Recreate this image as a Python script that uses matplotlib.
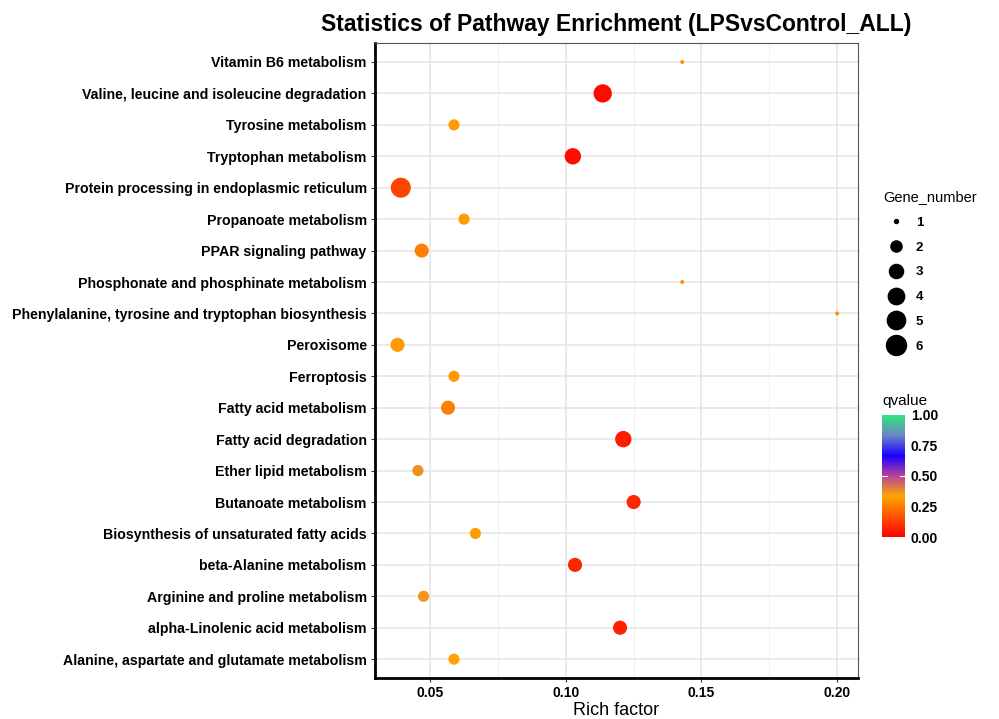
import numpy as np
import matplotlib
matplotlib.use("Agg")
import matplotlib.pyplot as plt
from matplotlib.colors import LinearSegmentedColormap, Normalize
from matplotlib.lines import Line2D

plt.rcParams['font.family'] = ['Liberation Sans', 'DejaVu Sans']

# pathways, top to bottom as in the picture
pathways = [
    "Vitamin B6 metabolism",
    "Valine, leucine and isoleucine degradation",
    "Tyrosine metabolism",
    "Tryptophan metabolism",
    "Protein processing in endoplasmic reticulum",
    "Propanoate metabolism",
    "PPAR signaling pathway",
    "Phosphonate and phosphinate metabolism",
    "Phenylalanine, tyrosine and tryptophan biosynthesis",
    "Peroxisome",
    "Ferroptosis",
    "Fatty acid metabolism",
    "Fatty acid degradation",
    "Ether lipid metabolism",
    "Butanoate metabolism",
    "Biosynthesis of unsaturated fatty acids",
    "beta-Alanine metabolism",
    "Arginine and proline metabolism",
    "alpha-Linolenic acid metabolism",
    "Alanine, aspartate and glutamate metabolism",
]
rich_factor = [0.1429, 0.1136, 0.0588, 0.1026, 0.0392, 0.0625, 0.0469, 0.1429, 0.2000, 0.0380,
               0.0588, 0.0566, 0.1212, 0.0455, 0.1250, 0.0667, 0.1034, 0.0476, 0.1200, 0.0588]
gene_number = [1, 5, 2, 4, 6, 2, 3, 1, 1, 3,
               2, 3, 4, 2, 3, 2, 3, 2, 3, 2]
qvalue = [0.30, 0.02, 0.32, 0.03, 0.14, 0.31, 0.26, 0.30, 0.30, 0.31,
          0.31, 0.26, 0.06, 0.37, 0.08, 0.32, 0.08, 0.36, 0.07, 0.33]

legend_sizes = [1, 2, 3, 4, 5, 6]
x_ticks = [0.05, 0.10, 0.15, 0.20]
cbar_ticks = [0.0, 0.25, 0.5, 0.75, 1.0]

# red -> orange -> blue -> green, roughly like ggplot's Lab interpolation
cmap = LinearSegmentedColormap.from_list("q", [
    (0.0, "#ff0000"), (0.333, "#ffa500"), (0.5, "#b8449a"),
    (0.667, "#1a00ff"), (0.833, "#6c84c4"), (1.0, "#30e87a")])
norm = Normalize(0, 1)


def marker_area(n):
    # ggplot scale_size: diameter rescaled on sqrt, 4px..20px at dpi 100
    d_px = 4 + 16 * np.sqrt((np.asarray(n) - 1) / 5.0)
    return (d_px * 0.72) ** 2


fig = plt.figure(figsize=(9.99, 7.19), dpi=100)
ax = fig.add_axes([0.3754, 0.057, 0.4835, 0.883])

ypos = np.arange(len(pathways))[::-1]
ax.scatter(rich_factor, ypos, s=marker_area(gene_number), c=qvalue, cmap=cmap, norm=norm,
           edgecolors="none", zorder=3)

ax.set_xlim(0.0297, 0.2077)
ax.set_ylim(-0.6, len(pathways) - 0.4)
ax.set_yticks(ypos)
ax.set_yticklabels(pathways, fontsize=10.2, fontweight="bold")
ax.set_xticks(x_ticks)
ax.set_xticklabels([f"{t:.2f}" for t in x_ticks], fontsize=10, fontweight="bold")
ax.set_xticks([0.075, 0.125, 0.175], minor=True)
ax.tick_params(axis="both", length=3, width=0.8, color="#333333", pad=3)
ax.tick_params(axis="x", which="minor", length=0)
ax.grid(True, which="major", color="#e6e6e6", lw=1.2, zorder=0)
ax.grid(True, which="minor", axis="x", color="#f0f0f0", lw=0.7, zorder=0)
ax.set_axisbelow(True)
for side in ["top", "right"]:
    ax.spines[side].set_color("#555555")
    ax.spines[side].set_linewidth(0.8)
for side in ["left", "bottom"]:
    ax.spines[side].set_color("black")
    ax.spines[side].set_linewidth(2)

ax.set_xlabel("Rich factor", fontsize=13, labelpad=1)
ax.set_title("Statistics of Pathway Enrichment (LPSvsControl_ALL)", fontsize=16.5,
             fontweight="bold", pad=9)

# size legend
handles = [Line2D([], [], ls="", marker="o", color="black",
                  markersize=np.sqrt(marker_area(n))) for n in legend_sizes]
leg = fig.legend(handles, [str(n) for n in legend_sizes], title="Gene_number",
                 loc="upper left", bbox_to_anchor=(0.872, 0.752), frameon=False,
                 fontsize=9.5, title_fontsize=10.5, labelspacing=0.95, handletextpad=0.5,
                 alignment="left")
for t in leg.get_texts():
    t.set_fontweight("bold")

# colour bar
cax = fig.add_axes([0.883, 0.253, 0.023, 0.170])
cb = fig.colorbar(plt.cm.ScalarMappable(norm=norm, cmap=cmap), cax=cax, ticks=cbar_ticks)
cb.outline.set_visible(False)
cb.ax.set_yticklabels([f"{t:.2f}" for t in cbar_ticks], fontsize=10, fontweight="bold")
cb.ax.tick_params(length=0, pad=4)
cax.plot([0, 0.2], [0.5, 0.5], color="white", lw=0.8)
cax.plot([0.8, 1], [0.5, 0.5], color="white", lw=0.8)
cax.set_xlim(0, 1)
fig.text(0.883, 0.432, "qvalue", fontsize=11, ha="left", va="bottom")

fig.savefig("out.png", dpi=100)
